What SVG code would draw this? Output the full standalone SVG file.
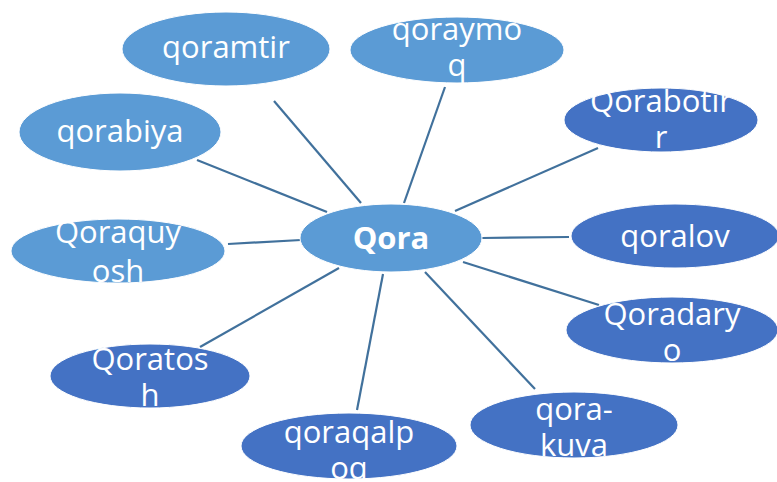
<svg xmlns="http://www.w3.org/2000/svg" width="777" height="482" viewBox="0 0 777 482">
<style>
.l{fill:#5B9BD5;stroke:#FFFFFF;stroke-width:1}
.d{fill:#4472C4;stroke:#FFFFFF;stroke-width:1}
text{font-family:"Open Sans","Liberation Sans",sans-serif;font-size:31px;fill:#FFFFFF;text-anchor:middle}
.c line{stroke:#41719C;stroke-width:2.2}
</style>
<rect width="777" height="482" fill="#FFFFFF"/>
<g class="c" id="connectors">
<line x1="274" y1="101" x2="361" y2="203"/>
<line x1="445" y1="87" x2="404" y2="203"/>
<line x1="598" y1="148" x2="455" y2="211"/>
<line x1="482" y1="238" x2="569" y2="237"/>
<line x1="463" y1="262" x2="599" y2="305"/>
<line x1="425" y1="272" x2="535" y2="389"/>
<line x1="383" y1="274" x2="357" y2="410"/>
<line x1="339" y1="268" x2="200" y2="347"/>
<line x1="228" y1="244" x2="301" y2="240"/>
<line x1="197" y1="160" x2="327" y2="212"/>
</g>
<g id="center"><ellipse class="l" cx="391" cy="238" rx="91" ry="34"/><text x="391" y="249" style="font-weight:bold">Qora</text></g>
<g id="qoramtir"><ellipse class="l" cx="226" cy="49" rx="104" ry="37"/><text x="226" y="58">qoramtir</text></g>
<g id="qoraymoq"><ellipse class="l" cx="457" cy="50" rx="107" ry="33"/><text x="457" y="40">qoraymo</text><text x="457" y="76">q</text></g>
<g id="qorabotir"><ellipse class="d" cx="661" cy="120" rx="97" ry="32"/><text x="661" y="112">Qorabotir</text><text x="661" y="148">r</text></g>
<g id="qoralov"><ellipse class="d" cx="675" cy="236" rx="104" ry="32"/><text x="675" y="247">qoralov</text></g>
<g id="qoradaryo"><ellipse class="d" cx="672" cy="330" rx="106" ry="33"/><text x="672" y="325">Qoradary</text><text x="672" y="361">o</text></g>
<g id="qorakuva"><ellipse class="d" cx="574" cy="425" rx="104" ry="33"/><text x="574" y="420">qora-</text><text x="574" y="456">kuva</text></g>
<g id="qoraqalpoq"><ellipse class="d" cx="349" cy="446" rx="108" ry="33"/><text x="349" y="443">qoraqalp</text><text x="349" y="479">oq</text></g>
<g id="qoratosh"><ellipse class="d" cx="150" cy="376" rx="100" ry="32"/><text x="150" y="370">Qoratos</text><text x="150" y="406">h</text></g>
<g id="qoraquyosh"><ellipse class="l" cx="118" cy="251" rx="107" ry="32"/><text x="118" y="243">Qoraquy</text><text x="118" y="282">osh</text></g>
<g id="qorabiya"><ellipse class="l" cx="120" cy="132" rx="101" ry="39"/><text x="120" y="142">qorabiya</text></g>
</svg>
